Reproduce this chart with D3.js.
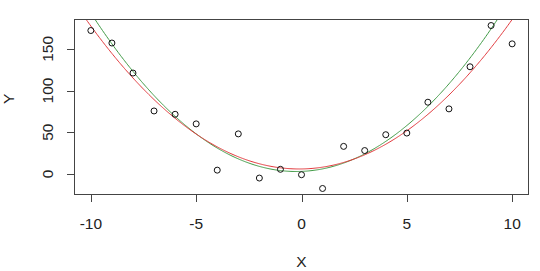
<!DOCTYPE html>
<html>
<head>
<meta charset="utf-8">
<script src="https://cdn.jsdelivr.net/npm/d3@7"></script>
<style>
  html, body { margin: 0; padding: 0; background: #fff; }
  svg text { font-family: 'Liberation Sans', Arial, sans-serif; fill: #222; }
</style>
</head>
<body>
<div id="chart"></div>
<script>
// observed points
const xValues = [-10, -9, -8, -7, -6, -5, -4, -3, -2, -1, 0, 1, 2, 3, 4, 5, 6, 7, 8, 9, 10];
const yValues = [172, 157, 121, 75.5, 71.5, 60, 4.5, 48, -5, 5.5, -1, -17.5, 33, 28, 47, 49, 86, 78, 128.5, 178, 156];

// tick labels
const xTicks = [-10, -5, 0, 5, 10];
const yTicks = [0, 50, 100, 150];

// green curve: the underlying model, coefficients c0 + c1*x + c2*x^2
const trueCoef = [3, 1, 2];

const width = 540, height = 271;
const margin = { left: 74, right: 11, top: 19, bottom: 76 };

// quadratic least squares fit (red curve), like lm(y ~ x + I(x^2))
function quadFit(xs, ys) {
  const n = xs.length;
  let s = [0, 0, 0, 0, 0], t = [0, 0, 0];
  xs.forEach((x, i) => {
    for (let k = 0; k < 5; k++) s[k] += Math.pow(x, k);
    for (let k = 0; k < 3; k++) t[k] += Math.pow(x, k) * ys[i];
  });
  const A = [[s[0], s[1], s[2], t[0]], [s[1], s[2], s[3], t[1]], [s[2], s[3], s[4], t[2]]];
  for (let i = 0; i < 3; i++) {
    for (let j = i + 1; j < 3; j++) {
      const f = A[j][i] / A[i][i];
      for (let k = i; k < 4; k++) A[j][k] -= f * A[i][k];
    }
  }
  const c = [0, 0, 0];
  for (let i = 2; i >= 0; i--) {
    let v = A[i][3];
    for (let k = i + 1; k < 3; k++) v -= A[i][k] * c[k];
    c[i] = v / A[i][i];
  }
  return c;
}
const fitCoef = quadFit(xValues, yValues);

// R style 4% padding on both axes
function padded(ext) {
  const r = ext[1] - ext[0];
  return [ext[0] - 0.04 * r, ext[1] + 0.04 * r];
}

const x = d3.scaleLinear()
  .domain(padded(d3.extent(xValues)))
  .range([margin.left, width - margin.right]);
const y = d3.scaleLinear()
  .domain(padded(d3.extent(yValues)))
  .range([height - margin.bottom, margin.top]);

const svg = d3.select('#chart').append('svg')
  .attr('width', width)
  .attr('height', height);

svg.append('clipPath').attr('id', 'plotclip')
  .append('rect')
  .attr('x', margin.left).attr('y', margin.top)
  .attr('width', width - margin.left - margin.right)
  .attr('height', height - margin.top - margin.bottom);

// curves
const xs = d3.range(x.domain()[0], x.domain()[1] + 0.05, 0.05);
const poly = c => v => c[0] + c[1] * v + c[2] * v * v;
const line = f => d3.line().x(d => x(d)).y(d => y(f(d)));

const curves = svg.append('g').attr('clip-path', 'url(#plotclip)');
curves.append('path')
  .attr('d', line(poly(trueCoef))(xs))
  .attr('fill', 'none')
  .attr('stroke', '#3f9a45')
  .attr('stroke-width', 1);
curves.append('path')
  .attr('d', line(poly(fitCoef))(xs))
  .attr('fill', 'none')
  .attr('stroke', '#e2383c')
  .attr('stroke-width', 1);

// points
svg.append('g').selectAll('circle')
  .data(xValues)
  .enter()
  .append('circle')
  .attr('cx', d => x(d))
  .attr('cy', (d, i) => y(yValues[i]))
  .attr('r', 3)
  .attr('fill', 'none')
  .attr('stroke', '#111')
  .attr('stroke-width', 1);

// box
svg.append('rect')
  .attr('x', margin.left + 0.5).attr('y', margin.top + 0.5)
  .attr('width', width - margin.left - margin.right - 1)
  .attr('height', height - margin.top - margin.bottom - 1)
  .attr('fill', 'none')
  .attr('stroke', '#444')
  .attr('stroke-width', 1);

// x axis
const bottom = height - margin.bottom;
const xAxis = svg.append('g');
xAxis.append('line')
  .attr('x1', x(xTicks[0])).attr('x2', x(xTicks[xTicks.length - 1]))
  .attr('y1', bottom - 0.5).attr('y2', bottom - 0.5)
  .attr('stroke', '#444');
xAxis.selectAll('line.tick').data(xTicks).enter().append('line')
  .attr('class', 'tick')
  .attr('x1', d => Math.round(x(d)) + 0.5).attr('x2', d => Math.round(x(d)) + 0.5)
  .attr('y1', bottom).attr('y2', bottom + 7)
  .attr('stroke', '#444');
xAxis.selectAll('text').data(xTicks).enter().append('text')
  .attr('x', d => x(d))
  .attr('y', 229)
  .attr('text-anchor', 'middle')
  .style('font-size', '15.5px')
  .text(d => d);

// y axis
const left = margin.left;
const yAxis = svg.append('g');
yAxis.append('line')
  .attr('x1', left + 0.5).attr('x2', left + 0.5)
  .attr('y1', y(yTicks[0])).attr('y2', y(yTicks[yTicks.length - 1]))
  .attr('stroke', '#444');
yAxis.selectAll('line.tick').data(yTicks).enter().append('line')
  .attr('class', 'tick')
  .attr('x1', left - 7).attr('x2', left)
  .attr('y1', d => Math.round(y(d)) + 0.5).attr('y2', d => Math.round(y(d)) + 0.5)
  .attr('stroke', '#444');
yAxis.selectAll('text').data(yTicks).enter().append('text')
  .attr('transform', d => `translate(52.5, ${y(d)}) rotate(-90)`)
  .attr('text-anchor', 'middle')
  .style('font-size', '15.5px')
  .text(d => d);

// axis titles
svg.append('text')
  .attr('x', x(0))
  .attr('y', 267)
  .attr('text-anchor', 'middle')
  .style('font-size', '15.5px')
  .text('X');
svg.append('text')
  .attr('transform', `translate(13.5, ${y(90)}) rotate(-90)`)
  .attr('text-anchor', 'middle')
  .style('font-size', '15.5px')
  .text('Y');
</script>
</body>
</html>
